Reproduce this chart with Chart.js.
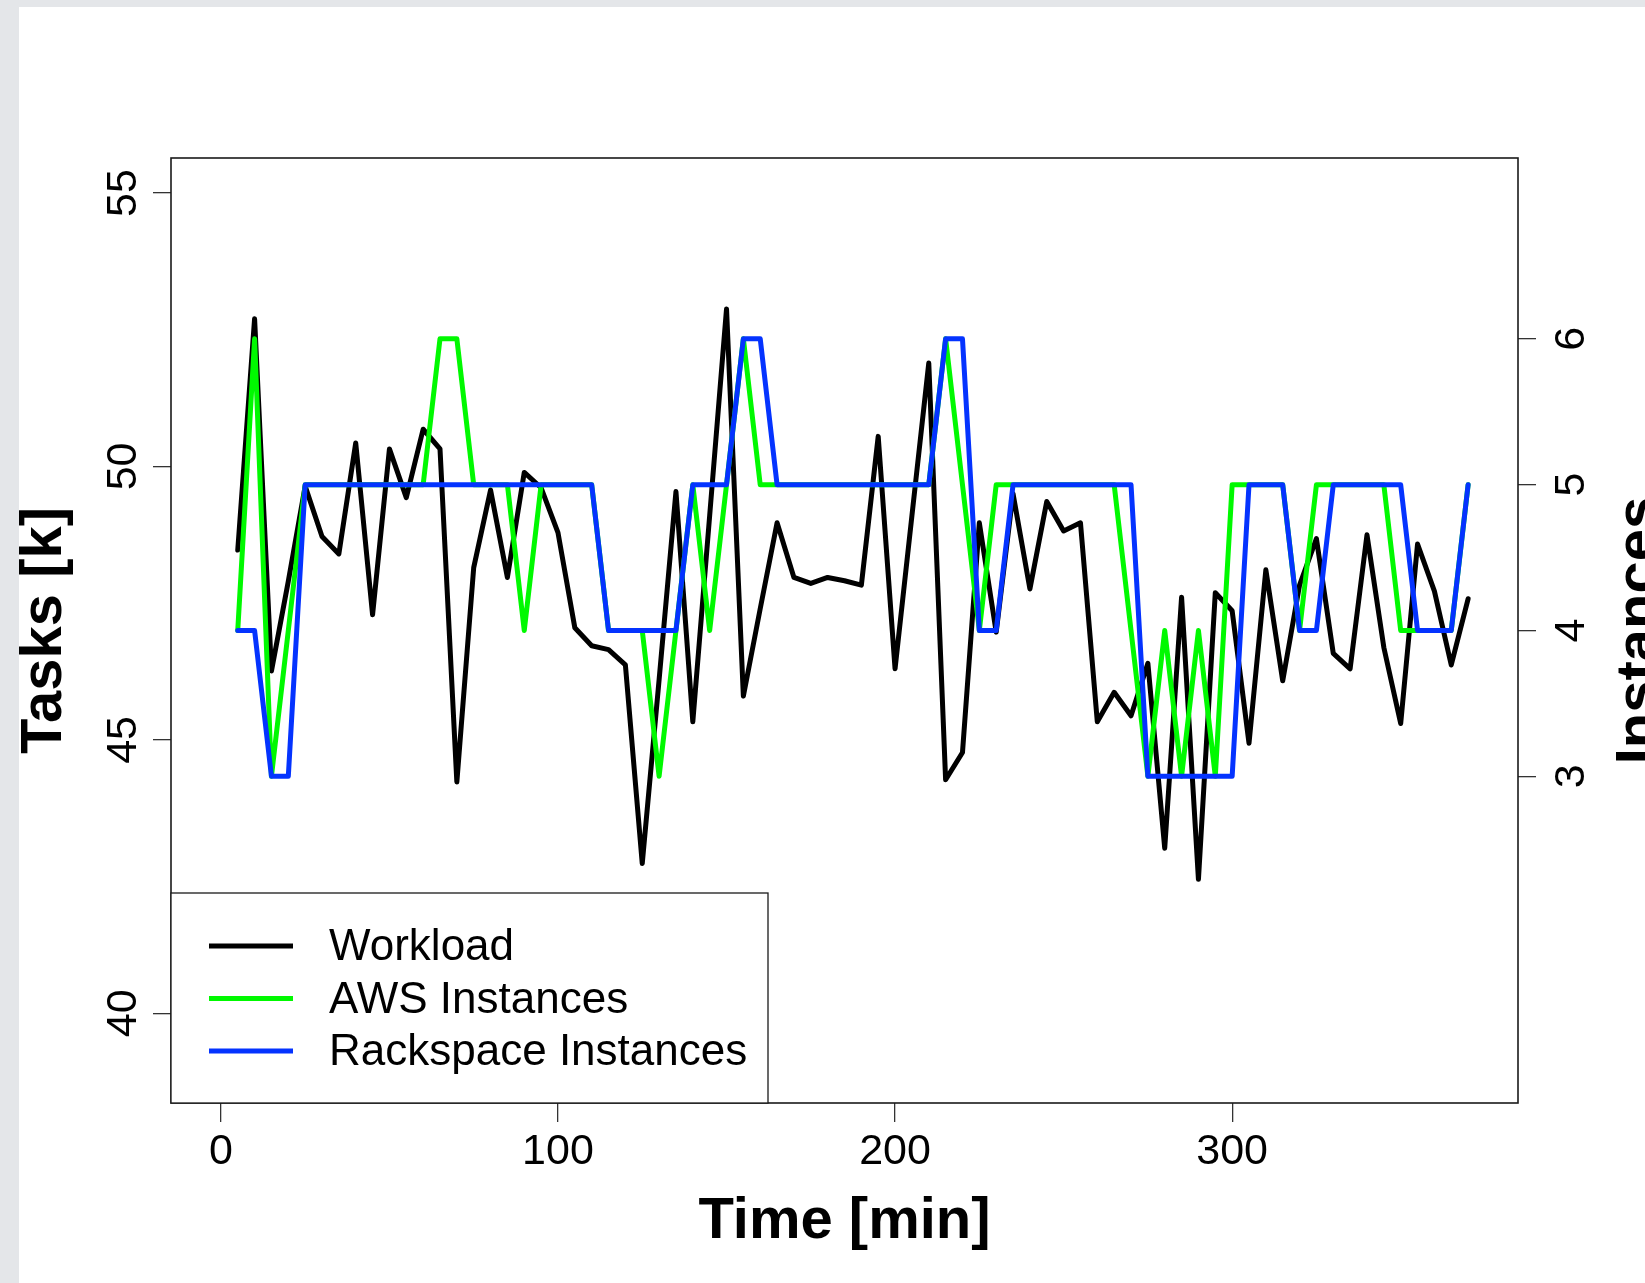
<!DOCTYPE html>
<html>
<head>
<meta charset="utf-8">
<title>Workload vs instances</title>
<script src="https://cdn.jsdelivr.net/npm/chart.js@4.4.0/dist/chart.umd.min.js"></script>
<style>
  html, body { margin: 0; padding: 0; background: #fff; }
  canvas { display: block; }
</style>
</head>
<body>
<canvas id="chart" width="1645" height="1283"></canvas>
<script>
const FONT = '"Liberation Sans", Arial, Helvetica, sans-serif';

// time in minutes, one sample every 5 min
const timeMin = [
  5, 10, 15, 20, 25, 30, 35, 40, 45, 50, 55, 60, 65, 70, 75, 80, 85, 90, 95, 100,
  105, 110, 115, 120, 125, 130, 135, 140, 145, 150, 155, 160, 165, 170, 175, 180, 185, 190, 195, 200,
  205, 210, 215, 220, 225, 230, 235, 240, 245, 250, 255, 260, 265, 270, 275, 280, 285, 290, 295, 300,
  305, 310, 315, 320, 325, 330, 335, 340, 345, 350, 355, 360, 365, 370
];

// tasks [k]
const workload = [
  48.47, 52.70, 46.26, 47.90, 49.64, 48.72, 48.40, 50.43, 47.29, 50.32, 49.43, 50.68, 50.32, 44.23, 48.15, 49.57, 47.97, 49.89, 49.61, 48.79,
  47.05, 46.72, 46.65, 46.37, 42.74, 46.10, 49.54, 45.33, 49.10, 52.88, 45.80, 47.40, 48.97, 47.97, 47.86, 47.97, 47.91, 47.83, 50.55, 46.30,
  49.10, 51.89, 44.27, 44.77, 48.97, 46.97, 49.50, 47.76, 49.36, 48.82, 48.97, 45.33, 45.87, 45.44, 46.40, 43.02, 47.61, 42.45, 47.69, 47.36,
  44.94, 48.11, 46.08, 47.83, 48.68, 46.58, 46.30, 48.75, 46.69, 45.30, 48.58, 47.72, 46.37, 47.58
];

const awsInstances = [
  4, 6, 3, 4, 5, 5, 5, 5, 5, 5, 5, 5, 6, 6, 5, 5, 5, 4, 5, 5,
  5, 5, 4, 4, 4, 3, 4, 5, 4, 5, 6, 5, 5, 5, 5, 5, 5, 5, 5, 5,
  5, 5, 6, 5, 4, 5, 5, 5, 5, 5, 5, 5, 5, 4, 3, 4, 3, 4, 3, 5,
  5, 5, 5, 4, 5, 5, 5, 5, 5, 4, 4, 4, 4, 5
];

const rackspaceInstances = [
  4, 4, 3, 3, 5, 5, 5, 5, 5, 5, 5, 5, 5, 5, 5, 5, 5, 5, 5, 5,
  5, 5, 4, 4, 4, 4, 4, 5, 5, 5, 6, 6, 5, 5, 5, 5, 5, 5, 5, 5,
  5, 5, 6, 6, 4, 4, 5, 5, 5, 5, 5, 5, 5, 5, 3, 3, 3, 3, 3, 3,
  5, 5, 5, 4, 4, 5, 5, 5, 5, 5, 4, 4, 4, 5
];

const timeTicks = [0, 100, 200, 300];
const taskTicks = [40, 45, 50, 55];
const instanceTicks = [3, 4, 5, 6];

const toPoints = (ys) => timeMin.map((t, i) => ({ x: t, y: ys[i] }));

const tickGrid = (len) => ({
  drawOnChartArea: false,
  drawTicks: true,
  tickLength: len,
  color: '#333',
  lineWidth: 1.3
});

// R-style box, rotated axis labels, titles and legend
const rDecor = {
  id: 'rDecor',
  beforeDraw(chart) {
    const c = chart.ctx;
    c.save();
    c.fillStyle = '#e4e6e9';
    c.fillRect(0, 0, chart.width, chart.height);
    c.fillStyle = '#ffffff';
    c.fillRect(19, 7, chart.width - 19, chart.height - 7);
    c.restore();
  },
  afterDraw(chart) {
    const c = chart.ctx;
    const a = chart.chartArea;
    const sy = chart.scales.y;
    const sy1 = chart.scales.y1;
    const midY = (a.top + a.bottom) / 2;

    c.save();
    c.strokeStyle = '#1a1a1a';
    c.lineWidth = 1.6;
    c.strokeRect(a.left, a.top, a.right - a.left, a.bottom - a.top);

    const rotText = (txt, x, y) => {
      c.save();
      c.translate(x, y);
      c.rotate(-Math.PI / 2);
      c.fillText(txt, 0, 0);
      c.restore();
    };

    c.fillStyle = '#000';
    c.textAlign = 'center';
    c.textBaseline = 'alphabetic';
    c.font = '43px ' + FONT;
    taskTicks.forEach(v => rotText(String(v), a.left - 35, sy.getPixelForValue(v)));
    instanceTicks.forEach(v => rotText(String(v), a.right + 66, sy1.getPixelForValue(v)));

    c.font = 'bold 58px ' + FONT;
    c.fillText('Time [min]', (a.left + a.right) / 2, 1238);
    rotText('Tasks [k]', 61, midY);
    rotText('Instances', 1656, midY);

    // legend, bottom-left inside the box
    const lx = a.left, ly = 893, lw = 597, lh = a.bottom - ly;
    c.fillStyle = '#fff';
    c.fillRect(lx, ly, lw, lh);
    c.strokeStyle = '#1a1a1a';
    c.lineWidth = 1.3;
    c.strokeRect(lx, ly, lw, lh);
    c.font = '44px ' + FONT;
    c.textAlign = 'left';
    c.textBaseline = 'middle';
    chart.data.datasets.forEach((ds, i) => {
      const y = ly + 53 + i * 52.5;
      c.strokeStyle = ds.borderColor;
      c.lineWidth = 5;
      c.lineCap = 'butt';
      c.beginPath();
      c.moveTo(lx + 38, y);
      c.lineTo(lx + 122, y);
      c.stroke();
      c.fillStyle = '#000';
      c.fillText(ds.label, lx + 158, y + 2);
    });
    c.restore();
  }
};

new Chart(document.getElementById('chart'), {
  type: 'line',
  data: {
    datasets: [
      {
        label: 'Workload',
        data: toPoints(workload),
        yAxisID: 'y',
        borderColor: '#000000',
        order: 3
      },
      {
        label: 'AWS Instances',
        data: toPoints(awsInstances),
        yAxisID: 'y1',
        borderColor: '#00f900',
        order: 2
      },
      {
        label: 'Rackspace Instances',
        data: toPoints(rackspaceInstances),
        yAxisID: 'y1',
        borderColor: '#0433ff',
        order: 1
      }
    ]
  },
  options: {
    responsive: false,
    animation: false,
    devicePixelRatio: 1,
    layout: { padding: { top: 158, left: 0, right: 0, bottom: 0 } },
    elements: {
      line: { borderWidth: 5, tension: 0, borderJoinStyle: 'round', borderCapStyle: 'round', fill: false },
      point: { radius: 0, hoverRadius: 0 }
    },
    plugins: {
      legend: { display: false },
      tooltip: { enabled: false }
    },
    scales: {
      x: {
        type: 'linear',
        min: -14.8,
        max: 384.8,
        afterBuildTicks: (s) => { s.ticks = timeTicks.map(v => ({ value: v })); },
        afterFit: (s) => { s.height = 180; },
        grid: tickGrid(19),
        border: { display: false },
        ticks: {
          color: '#000',
          font: { family: FONT, size: 43 },
          padding: 4,
          maxRotation: 0,
          autoSkip: false
        }
      },
      y: {
        position: 'left',
        min: 38.36,
        max: 55.64,
        afterBuildTicks: (s) => { s.ticks = taskTicks.map(v => ({ value: v })); },
        afterFit: (s) => { s.width = 171; },
        grid: tickGrid(18),
        border: { display: false },
        ticks: { display: false }
      },
      y1: {
        position: 'right',
        min: 0.76,
        max: 7.24,
        afterBuildTicks: (s) => { s.ticks = instanceTicks.map(v => ({ value: v })); },
        afterFit: (s) => { s.width = 127; },
        grid: tickGrid(18),
        border: { display: false },
        ticks: { display: false }
      }
    }
  },
  plugins: [rDecor]
});
</script>
</body>
</html>
